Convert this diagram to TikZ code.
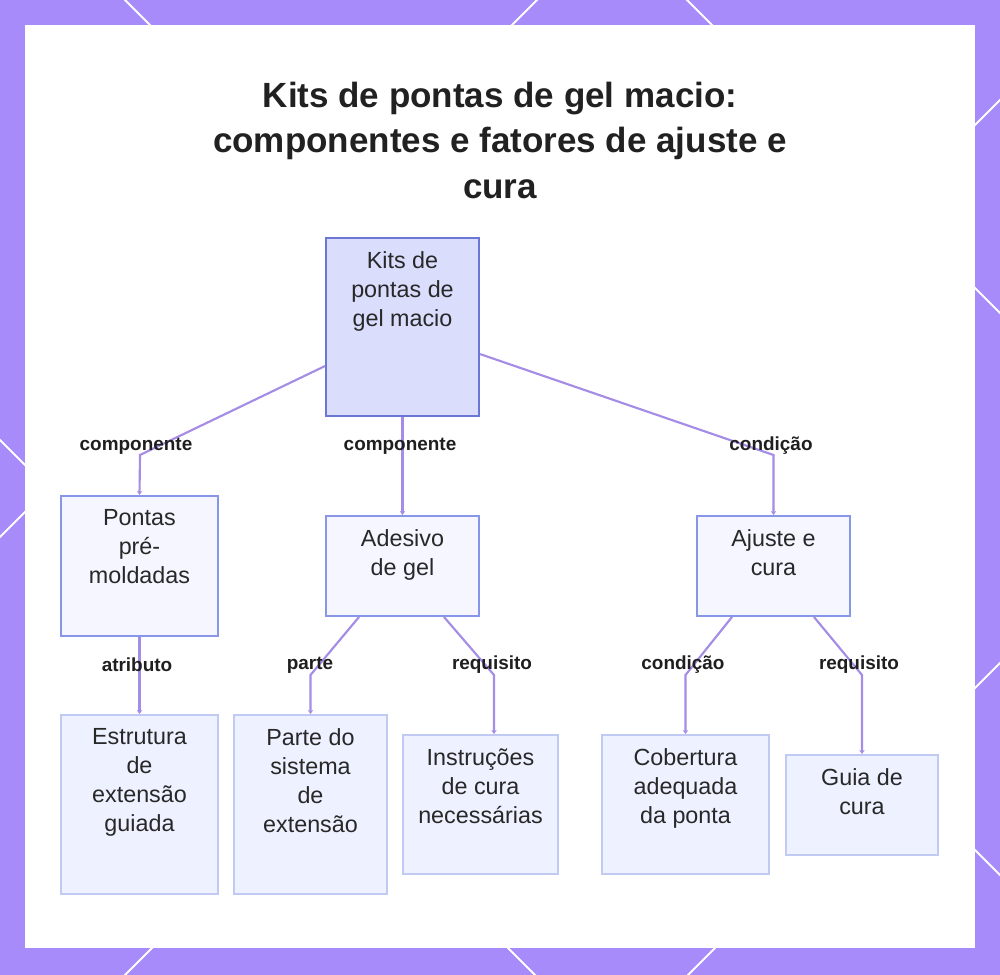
\documentclass[tikz,border=0pt]{standalone}
\usepackage{fontspec}
\setmainfont{Liberation Sans}
\usetikzlibrary{calc,arrows.meta}
\definecolor{frame}{RGB}{167,139,250}
\definecolor{edgec}{RGB}{165,140,230}
\definecolor{rootfill}{RGB}{218,221,252}
\definecolor{rootdraw}{RGB}{108,118,212}
\definecolor{midfill}{RGB}{245,246,255}
\definecolor{middraw}{RGB}{135,150,230}
\definecolor{leaffill}{RGB}{238,241,255}
\definecolor{leafdraw}{RGB}{192,202,242}
\definecolor{txtc}{RGB}{40,40,40}
\tikzset{
  rootbox/.style={draw=rootdraw,fill=rootfill,line width=1.6pt,inner sep=0pt},
  midbox/.style={draw=middraw,fill=midfill,line width=1.5pt,inner sep=0pt},
  leafbox/.style={draw=leafdraw,fill=leaffill,line width=1.5pt,inner sep=0pt},
  boxtext/.style={anchor=north,align=center,inner sep=0pt,text=txtc,font=\fontsize{17.5}{21.75}\selectfont},
  lbl/.style={inner sep=0pt,text=black!88,font=\fontsize{14.2}{17}\selectfont\bfseries},
  edge/.style={draw=edgec,line width=1.6pt,-{Stealth[length=3pt,width=4pt]}},
  deco/.style={draw=white,line width=1.5pt}
}
\begin{document}
\begin{tikzpicture}[x=0.75pt,y=-0.75pt]
\useasboundingbox (0,0) rectangle (1000,975);
\fill[frame] (0,0) rectangle (1000,975);
\begin{scope}
\clip (0,0) rectangle (1000,975);
\foreach \c in {-687,-125,440}{\draw[deco] (-100,-100+\c) -- (1100,1100+\c);}
\foreach \d in {537,1100,1663}{\draw[deco] (-100,\d+100) -- (1100,\d-1100);}
\end{scope}
\fill[white] (25,25) rectangle (975,948);

% title
\node[align=center,inner sep=0pt,text=black!87,font=\fontsize{26.25}{34}\selectfont\bfseries,anchor=base] (title) at (500,198)
  {Kits de pontas de gel macio:\\componentes e fatores de ajuste e\\cura};

% boxes
\node[rootbox,minimum width=153*0.75pt,minimum height=178*0.75pt] (root) at (402.5,327) {};
\node[midbox,minimum width=157*0.75pt,minimum height=140*0.75pt] (pontas) at (139.5,566) {};
\node[midbox,minimum width=153*0.75pt,minimum height=100*0.75pt] (adesivo) at (402.5,566) {};
\node[midbox,minimum width=153*0.75pt,minimum height=100*0.75pt] (ajuste) at (773.5,566) {};
\node[leafbox,minimum width=157*0.75pt,minimum height=179*0.75pt] (estrutura) at (139.5,804.5) {};
\node[leafbox,minimum width=153*0.75pt,minimum height=179*0.75pt] (parte) at (310.5,804.5) {};
\node[leafbox,minimum width=155*0.75pt,minimum height=139*0.75pt] (instr) at (480.5,804.5) {};
\node[leafbox,minimum width=167*0.75pt,minimum height=139*0.75pt] (cobert) at (685.5,804.5) {};
\node[leafbox,minimum width=152*0.75pt,minimum height=100*0.75pt] (guia) at (862,805) {};

% box texts
\node[boxtext] (troot) at ([yshift=-14*0.75pt]root.north) {Kits de\\pontas de\\gel macio};
\node[boxtext] (tpontas) at ([yshift=-14*0.75pt]pontas.north) {Pontas\\pré-\\moldadas};
\node[boxtext] (tadesivo) at ([yshift=-14*0.75pt]adesivo.north) {Adesivo\\de gel};
\node[boxtext] (tajuste) at ([yshift=-14*0.75pt]ajuste.north) {Ajuste e\\cura};
\node[boxtext] (testrutura) at ([yshift=-14*0.75pt]estrutura.north) {Estrutura\\de\\extensão\\guiada};
\node[boxtext] (tparte) at ([yshift=-14*0.75pt]parte.north) {Parte do\\sistema\\de\\extensão};
\node[boxtext] (tinstr) at ([yshift=-14*0.75pt]instr.north) {Instruções\\de cura\\necessárias};
\node[boxtext] (tcobert) at ([yshift=-14*0.75pt]cobert.north) {Cobertura\\adequada\\da ponta};
\node[boxtext] (tguia) at ([yshift=-14*0.75pt]guia.north) {Guia de\\cura};

% bends
\coordinate (b1) at (140,455);
\coordinate (b2) at (773.5,455);
\coordinate (b3) at (310.5,675);
\coordinate (b4) at (494,675);
\coordinate (b5) at (685.5,675);
\coordinate (b6) at (862,675);

% connectors
\draw[edge] ($(root.south west)+(0,-51)$) -- (b1) -- (pontas.north);
\draw[edge] (root.south) -- (adesivo.north);
\draw[edge] ($(root.south east)+(0,-63)$) -- (b2) -- (ajuste.north);
\draw[edge] (pontas.south) -- (estrutura.north);
\draw[edge] ($(adesivo.south west)+(34,0)$) -- (b3) -- (parte.north);
\draw[edge] ($(adesivo.south west)+(119,0)$) -- (b4) -- (b4 |- instr.north);
\draw[edge] ($(ajuste.south west)+(36,0)$) -- (b5) -- (cobert.north);
\draw[edge] ($(ajuste.south west)+(118,0)$) -- (b6) -- (guia.north);

% labels
\node[lbl] (l1) at (136,446) {componente};
\node[lbl] (l2) at (400,446) {componente};
\node[lbl] (l3) at (771,446) {condição};
\node[lbl] (l4) at (137,665) {atributo};
\node[lbl] (l5) at (310,665) {parte};
\node[lbl] (l6) at (492,665) {requisito};
\node[lbl] (l7) at (683,665) {condição};
\node[lbl] (l8) at (859,665) {requisito};
\end{tikzpicture}
\end{document}
